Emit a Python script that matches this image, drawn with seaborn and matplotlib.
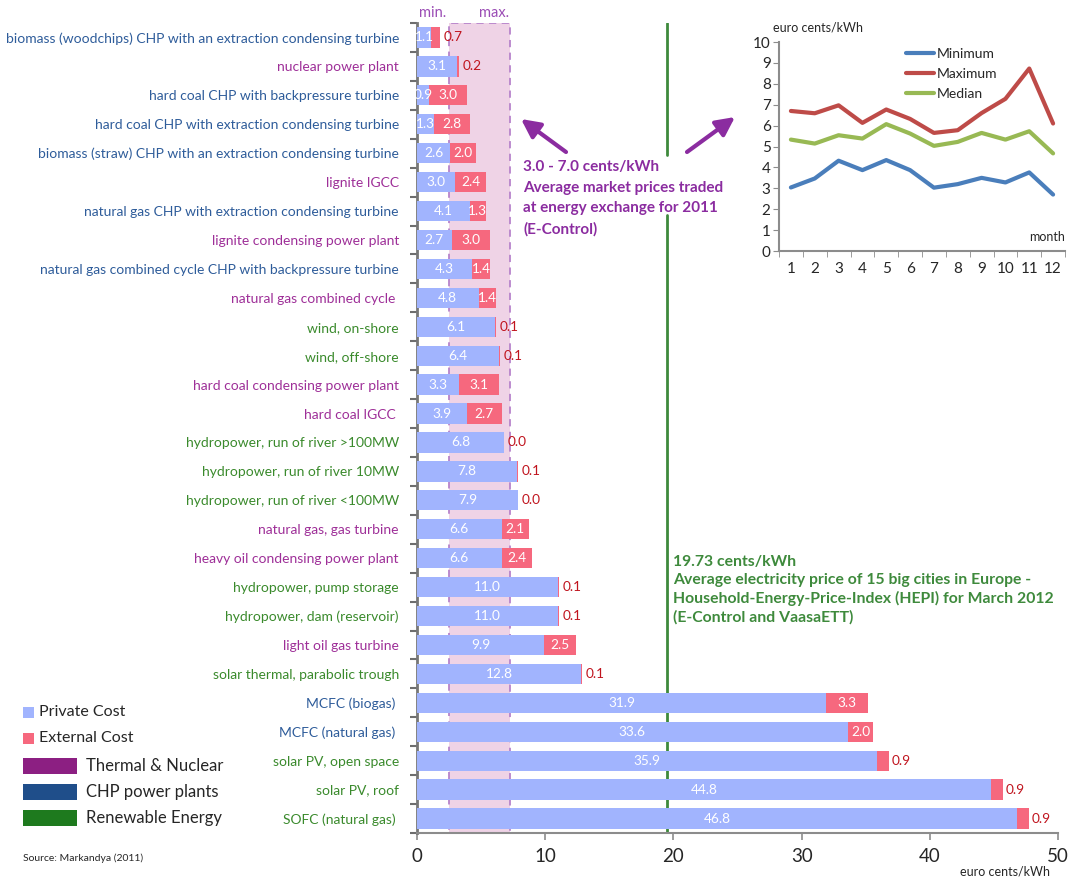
import matplotlib
matplotlib.use("Agg")
import matplotlib.pyplot as plt
import matplotlib.transforms as mtransforms
from matplotlib.patches import Rectangle
import seaborn as sns
import pandas as pd

# ---------------- data ----------------
categories = [
    "biomass (woodchips) CHP with an extraction condensing turbine",
    "nuclear power plant",
    "hard coal CHP with backpressure turbine",
    "hard coal CHP with extraction condensing turbine",
    "biomass (straw) CHP with an extraction condensing turbine",
    "lignite IGCC",
    "natural gas CHP with extraction condensing turbine",
    "lignite condensing power plant",
    "natural gas combined cycle CHP with backpressure turbine",
    "natural gas combined cycle ",
    "wind, on-shore",
    "wind, off-shore",
    "hard coal condensing power plant",
    "hard coal IGCC ",
    "hydropower, run of river >100MW",
    "hydropower, run of river 10MW",
    "hydropower, run of river <100MW",
    "natural gas, gas turbine",
    "heavy oil condensing power plant",
    "hydropower, pump storage",
    "hydropower, dam (reservoir)",
    "light oil gas turbine",
    "solar thermal, parabolic trough",
    "MCFC (biogas) ",
    "MCFC (natural gas) ",
    "solar PV, open space",
    "solar PV, roof",
    "SOFC (natural gas) ",
]
groups = [
    "CHP", "Thermal", "CHP", "CHP", "CHP", "Thermal", "CHP", "Thermal", "CHP", "Thermal",
    "Renewable", "Renewable", "Thermal", "Thermal", "Renewable", "Renewable", "Renewable",
    "Thermal", "Thermal", "Renewable", "Renewable", "Thermal", "Renewable",
    "CHP", "CHP", "Renewable", "Renewable", "Renewable",
]
private_cost = [1.1, 3.1, 0.9, 1.3, 2.6, 3.0, 4.1, 2.7, 4.3, 4.8, 6.1, 6.4, 3.3, 3.9,
                6.8, 7.8, 7.9, 6.6, 6.6, 11.0, 11.0, 9.9, 12.8, 31.9, 33.6, 35.9, 44.8, 46.8]
external_cost = [0.7, 0.2, 3.0, 2.8, 2.0, 2.4, 1.3, 3.0, 1.4, 1.4, 0.1, 0.1, 3.1, 2.7,
                 0.0, 0.1, 0.0, 2.1, 2.4, 0.1, 0.1, 2.5, 0.1, 3.3, 2.0, 0.9, 0.9, 0.9]

market_min, market_max = 2.5, 7.25
hepi_price = 19.5

months = list(range(1, 13))
monthly_minimum = [3.04, 3.47, 4.32, 3.87, 4.35, 3.87, 3.03, 3.20, 3.50, 3.28, 3.76, 2.70]
monthly_maximum = [6.70, 6.59, 6.97, 6.13, 6.77, 6.32, 5.65, 5.78, 6.60, 7.28, 8.73, 6.10]
monthly_median = [5.33, 5.14, 5.54, 5.38, 6.07, 5.62, 5.03, 5.22, 5.65, 5.33, 5.73, 4.67]

# ---------------- style ----------------
sns.set_style("ticks")
plt.rcParams["font.family"] = ["Lato", "DejaVu Sans"]

C_PRIV = "#A1B4FE"
C_EXT = "#F6687E"
C_EXT_TXT = "#C0141E"
LABEL_COLORS = {"CHP": "#2E5C9A", "Thermal": "#9E2F98", "Renewable": "#3A8A2C"}
LEG_COLORS = {"Thermal": "#8C1F82", "CHP": "#1F4E8A", "Renewable": "#1E7A1E"}
PURPLE = "#8B2CA0"
GREEN = "#3E8A3C"
GRAY = "#8C8C8C"

df = pd.DataFrame({"cat": categories, "private": private_cost, "external": external_cost,
                   "group": groups})
df["total"] = df["private"] + df["external"]

W, H = 1076, 881
fig = plt.figure(figsize=(W / 100, H / 100), dpi=100)
ax = fig.add_axes([417 / W, 1 - 833 / H, (1058 - 417) / W, (833 - 23) / H])

# shaded market price band
ax.axvspan(market_min, market_max, facecolor="#EFD3E6", edgecolor="#B784CB",
           linestyle=(0, (4, 3)), linewidth=1.3, zorder=0)

sns.barplot(data=df, x="total", y="cat", color=C_EXT, saturation=1, width=0.7,
            orient="h", ax=ax, zorder=2, linewidth=0)
sns.barplot(data=df, x="private", y="cat", color=C_PRIV, saturation=1, width=0.7,
            orient="h", ax=ax, zorder=3, linewidth=0)

# green HEPI line (interrupted behind annotation text)
ax.axvline(hepi_price, ymin=0, ymax=0.763, color=GREEN, lw=2, zorder=1)
ax.axvline(hepi_price, ymin=0.837, ymax=1.0, color=GREEN, lw=2, zorder=1)

# value labels
for i, (p, e) in enumerate(zip(private_cost, external_cost)):
    ax.text(p / 2, i, f"{p:.1f}", ha="center", va="center", color="white",
            fontsize=9.8, zorder=5)
    if e >= 1.0:
        ax.text(p + e / 2, i, f"{e:.1f}", ha="center", va="center", color="white",
                fontsize=9.8, zorder=5)
    else:
        ax.text(p + e + 0.25, i, f"{e:.1f}", ha="left", va="center", color=C_EXT_TXT,
                fontsize=9.8, zorder=5)

ax.set_xlim(0, 50)
ax.set_ylim(len(categories) - 0.5, -0.5)
ax.set_xticks(range(0, 51, 10))
ax.tick_params(axis="x", labelsize=13.5, length=5, color=GRAY, width=1.2, pad=6)
ax.set_yticks(range(len(categories)))
ax.set_yticks([i + 0.5 for i in range(-1, len(categories))], minor=True)
ax.tick_params(axis="y", which="major", length=0, pad=13, labelsize=10)
ax.tick_params(axis="y", which="minor", length=5, color="#6E6E6E", width=1.5)
for lbl, g in zip(ax.get_yticklabels(), groups):
    lbl.set_color(LABEL_COLORS[g])
ax.set_xlabel("")
ax.set_ylabel("")
for s in ["top", "right"]:
    ax.spines[s].set_visible(False)
ax.spines["left"].set_color("#777777")
ax.spines["left"].set_linewidth(2)
ax.spines["bottom"].set_color(GRAY)
ax.spines["bottom"].set_linewidth(1.5)

trans = mtransforms.blended_transform_factory(ax.transData, ax.transAxes)
ax.text(1.25, 1.012, "min.", transform=trans, ha="center", va="center",
        color="#9B4DB5", fontsize=10.5)
ax.text(6.0, 1.012, "max.", transform=trans, ha="center", va="center",
        color="#9B4DB5", fontsize=10.5)

fig.text(1050 / W, 1 - 872 / H, "euro cents/kWh", ha="right", va="center", fontsize=9)

# annotations
fig.text(523 / W, 1 - 160 / H,
         "3.0 - 7.0 cents/kWh\nAverage market prices traded\nat energy exchange for 2011\n(E-Control)",
         ha="left", va="top", color=PURPLE, fontsize=11, fontweight="bold",
         linespacing=1.6)
fig.text(673 / W, 1 - 555 / H,
         "19.73 cents/kWh\nAverage electricity price of 15 big cities in Europe -\n"
         "Household-Energy-Price-Index (HEPI) for March 2012\n(E-Control and VaasaETT)",
         ha="left", va="top", color=GREEN, fontsize=11.3, fontweight="bold",
         linespacing=1.35)
arrow = dict(arrowstyle="-|>", lw=3, mutation_scale=28, color=PURPLE, shrinkA=0, shrinkB=0)
fig.add_artist(matplotlib.patches.FancyArrowPatch((566 / W, 1 - 152 / H), (521 / W, 1 - 119 / H),
                                                  transform=fig.transFigure, **arrow))
fig.add_artist(matplotlib.patches.FancyArrowPatch((687 / W, 1 - 152 / H), (735 / W, 1 - 117 / H),
                                                  transform=fig.transFigure, **arrow))

# custom legend
def frect(x0, y0, x1, y1, color):
    fig.add_artist(Rectangle((x0 / W, 1 - y1 / H), (x1 - x0) / W, (y1 - y0) / H,
                             transform=fig.transFigure, facecolor=color, edgecolor="none"))

frect(23, 707, 34, 718, C_PRIV)
fig.text(39 / W, 1 - 712 / H, "Private Cost", va="center", fontsize=11.5)
frect(23, 733, 34, 744, C_EXT)
fig.text(39 / W, 1 - 738 / H, "External Cost", va="center", fontsize=11.5)
for yc, key, name in [(766, "Thermal", "Thermal & Nuclear"),
                      (792, "CHP", "CHP power plants"),
                      (818, "Renewable", "Renewable Energy")]:
    frect(23, yc - 8, 77, yc + 8, LEG_COLORS[key])
    fig.text(86 / W, 1 - yc / H, name, va="center", fontsize=12)
fig.text(23 / W, 1 - 858 / H, "Source: Markandya (2011)", va="center", fontsize=7.5)

# ---------------- inset ----------------
iax = fig.add_axes([779 / W, 1 - 251 / H, (1065 - 779) / W, (251 - 42) / H])
ldf = pd.DataFrame({
    "month": months * 3,
    "value": monthly_minimum + monthly_maximum + monthly_median,
    "series": ["Minimum"] * 12 + ["Maximum"] * 12 + ["Median"] * 12,
})
sns.lineplot(data=ldf, x="month", y="value", hue="series",
             palette={"Minimum": "#4A7EBB", "Maximum": "#BE4B48", "Median": "#98B954"},
             lw=3, ax=iax)
iax.set_xlim(0.5, 12.5)
iax.set_ylim(0, 10)
iax.set_yticks(range(0, 11))
iax.set_xticks(months)
iax.set_xticks([m + 0.5 for m in range(0, 13)], minor=True)
iax.tick_params(axis="x", which="major", length=0, labelsize=11, pad=8)
iax.tick_params(axis="x", which="minor", length=4, color=GRAY)
iax.tick_params(axis="y", length=4, color=GRAY, labelsize=11, pad=2)
iax.set_xlabel("")
iax.set_ylabel("")
for s in ["top", "right"]:
    iax.spines[s].set_visible(False)
iax.spines["left"].set_color(GRAY)
iax.spines["bottom"].set_color(GRAY)
iax.spines["left"].set_linewidth(1.5)
iax.spines["bottom"].set_linewidth(1.5)
leg = iax.legend(loc="upper left", bbox_to_anchor=(0.40, 1.03), frameon=False,
                 fontsize=10, handlelength=2.0, handletextpad=0.2, labelspacing=0.55)
for h in leg.get_lines():
    h.set_linewidth(3)
iax.text(1.0, 0.04, "month", transform=iax.transAxes, ha="right", va="bottom", fontsize=9)
fig.text(773 / W, 1 - 28 / H, "euro cents/kWh", ha="left", va="center", fontsize=9)

fig.savefig("out.png", dpi=100)
